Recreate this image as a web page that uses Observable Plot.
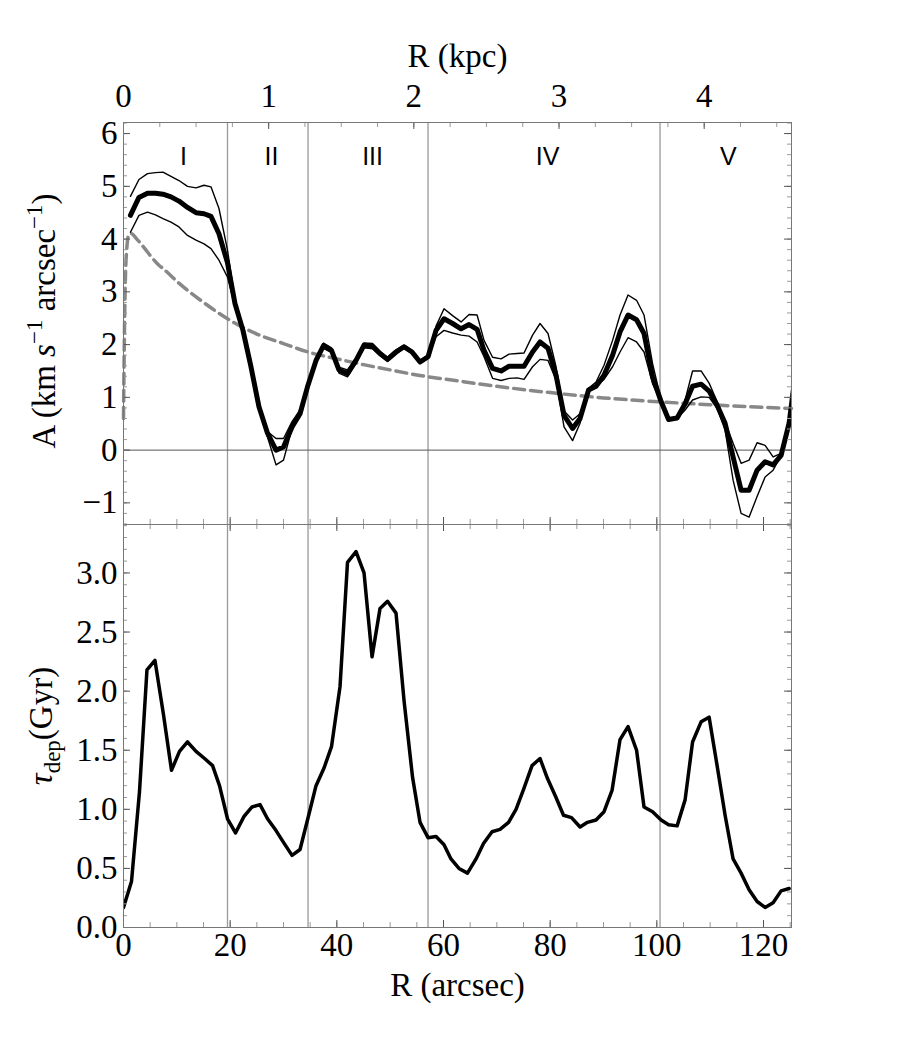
<!DOCTYPE html>
<html><head><meta charset="utf-8">
<script src="https://cdn.jsdelivr.net/npm/d3@7"></script>
<script src="https://cdn.jsdelivr.net/npm/@observablehq/plot@0.6"></script>
<style>
body{margin:0;background:#fff;}
#wrap{position:relative;width:913px;height:1050px;overflow:hidden;background:#fff;}
#wrap svg{position:absolute;left:0;}
</style></head><body><div id="wrap"></div>
<script>
// ---------- data ----------
const regionBounds = [19.5, 34.6, 57.1, 100.6];
const regionNames = ["I", "II", "III", "IV", "V"];
const regionLabelR = [11.25, 27.75, 46.7, 79.5, 113.4];

const xMajor = [0, 20, 40, 60, 80, 100, 120];
const kpcLabels = [0, 1, 2, 3, 4];
const aLabels = [-1, 0, 1, 2, 3, 4, 5, 6];
const tauLabels = [0, 0.5, 1, 1.5, 2, 2.5, 3];

const aR = [
1.3, 2.9, 4.5, 6.0, 7.4, 8.9, 10.4, 12.0, 13.6, 15.1,
16.4, 17.9, 19.5, 20.9, 22.4, 23.9, 25.4, 27.0, 28.6, 30.0,
31.6, 33.1, 34.5, 36.1, 37.5, 39.0, 40.4, 42.0, 43.6, 45.1,
46.7, 48.1, 49.5, 51.1, 52.6, 54.1, 55.6, 57.1, 58.6, 60.1,
61.7, 63.3, 64.8, 66.3, 67.6, 69.2, 70.8, 72.3, 73.8, 75.1,
76.7, 78.1, 79.6, 81.1, 82.6, 84.2, 85.6, 87.2, 88.6, 90.1,
91.7, 93.1, 94.6, 96.2, 97.6, 99.2, 100.8, 102.2, 103.8, 105.3,
106.7, 108.3, 109.8, 111.3, 112.8, 114.3, 115.8, 117.3, 118.8, 120.3,
121.8, 123.3, 124.8, 126.3];
const aMid = [
4.45, 4.79, 4.87, 4.87, 4.85, 4.80, 4.72, 4.60, 4.50, 4.48,
4.43, 4.10, 3.55, 2.78, 2.27, 1.58, 0.82, 0.32, 0.00, 0.06,
0.44, 0.69, 1.20, 1.70, 1.98, 1.89, 1.52, 1.45, 1.70, 1.99,
1.97, 1.83, 1.72, 1.86, 1.96, 1.86, 1.67, 1.77, 2.27, 2.49,
2.40, 2.30, 2.38, 2.29, 1.89, 1.55, 1.50, 1.59, 1.59, 1.59,
1.86, 2.05, 1.93, 1.42, 0.66, 0.41, 0.60, 1.14, 1.21, 1.42,
1.80, 2.24, 2.56, 2.47, 2.21, 1.39, 0.92, 0.58, 0.61, 0.88,
1.21, 1.25, 1.12, 0.85, 0.51, -0.13, -0.76, -0.76, -0.38, -0.22,
-0.28, -0.10, 0.51, 1.70];
const aUpper = [
4.81, 5.13, 5.24, 5.26, 5.27, 5.19, 5.11, 5.00, 4.97, 5.02,
4.99, 4.58, 3.79, 2.85, 2.32, 1.62, 0.88, 0.35, 0.22, 0.22,
0.54, 0.76, 1.25, 1.75, 2.03, 1.94, 1.57, 1.52, 1.75, 2.03,
2.02, 1.87, 1.76, 1.90, 1.99, 1.89, 1.70, 1.80, 2.35, 2.68,
2.55, 2.43, 2.57, 2.56, 2.08, 1.76, 1.73, 1.82, 1.83, 1.84,
2.18, 2.40, 2.21, 1.58, 0.74, 0.57, 0.69, 1.17, 1.29, 1.61,
2.08, 2.56, 2.94, 2.84, 2.56, 1.64, 0.95, 0.57, 0.60, 0.95,
1.50, 1.50, 1.27, 0.92, 0.54, 0.13, -0.25, -0.19, 0.14, 0.09,
-0.13, -0.06, 0.51, 1.70];
const aLower = [
4.13, 4.45, 4.51, 4.46, 4.39, 4.32, 4.23, 4.07, 3.98, 3.91,
3.82, 3.60, 3.28, 2.72, 2.22, 1.53, 0.77, 0.25, -0.28, -0.19,
0.41, 0.64, 1.15, 1.65, 1.93, 1.85, 1.46, 1.39, 1.65, 1.94,
1.92, 1.79, 1.68, 1.82, 1.93, 1.83, 1.64, 1.74, 2.15, 2.27,
2.22, 2.18, 2.16, 2.05, 1.77, 1.36, 1.32, 1.36, 1.37, 1.34,
1.58, 1.72, 1.70, 1.33, 0.44, 0.18, 0.51, 1.10, 1.21, 1.34,
1.58, 1.86, 2.13, 2.05, 1.86, 1.26, 0.90, 0.56, 0.60, 0.76,
0.95, 1.01, 1.00, 0.79, 0.38, -0.57, -1.20, -1.27, -0.88, -0.51,
-0.38, -0.10, 0.51, 1.70];

const modelR = [0, 0.15, 0.3, 0.6, 1.0, 1.5, 2.5, 4.0, 5.0, 6.5, 8.0, 10, 12, 15, 19.5, 25, 30, 34.6, 40, 45, 50, 57.1, 60, 70, 80, 90, 100.6, 110, 120, 125.25];
const modelA = [0.6, 2.0, 3.0, 3.8, 4.08, 4.1, 4.0, 3.82, 3.69, 3.52, 3.39, 3.2, 3.03, 2.8, 2.49, 2.2, 2.02, 1.86, 1.73, 1.62, 1.52, 1.39, 1.35, 1.21, 1.09, 0.99, 0.915, 0.86, 0.81, 0.79];

const tauR = [
0, 1.5, 3.0, 4.4, 5.9, 7.5, 9.0, 10.5, 12.0, 13.6,
15.2, 16.7, 18.0, 19.5, 21.0, 22.6, 24.1, 25.6, 27.0, 28.6,
30.0, 31.6, 33.1, 34.5, 36.1, 37.6, 39.0, 40.6, 42.0, 43.6,
45.1, 46.6, 48.1, 49.5, 51.1, 52.6, 54.2, 55.6, 57.1, 58.6,
60.1, 61.4, 62.9, 64.5, 66.1, 67.5, 69.1, 70.6, 72.2, 73.6,
75.1, 76.6, 78.1, 79.5, 81.1, 82.5, 84.0, 85.6, 87.0, 88.6,
90.1, 91.6, 93.1, 94.6, 96.2, 97.6, 99.2, 100.8, 102.2, 103.8,
105.3, 106.7, 108.3, 109.8, 111.3, 112.8, 114.3, 115.8, 117.3, 118.8,
120.3, 121.8, 123.3, 124.8];
const tau = [
0.17, 0.39, 1.15, 2.18, 2.26, 1.80, 1.33, 1.49, 1.57, 1.49,
1.43, 1.37, 1.20, 0.92, 0.80, 0.94, 1.02, 1.04, 0.92, 0.82,
0.72, 0.61, 0.66, 0.91, 1.20, 1.35, 1.53, 2.04, 3.09, 3.18,
3.00, 2.29, 2.70, 2.76, 2.66, 1.92, 1.27, 0.89, 0.76, 0.77,
0.70, 0.58, 0.50, 0.46, 0.58, 0.71, 0.81, 0.83, 0.89, 1.00,
1.18, 1.37, 1.43, 1.26, 1.10, 0.95, 0.93, 0.85, 0.89, 0.91,
0.98, 1.16, 1.59, 1.70, 1.50, 1.02, 0.98, 0.91, 0.87, 0.86,
1.08, 1.57, 1.74, 1.78, 1.37, 0.95, 0.58, 0.46, 0.32, 0.22,
0.17, 0.21, 0.31, 0.33];

// ---------- layout / style ----------
const SERIF = "'Liberation Serif', 'Times New Roman', serif";
const SANS = "'Liberation Sans', Arial, sans-serif";
const ARCSEC_PER_KPC = 27.22;
const xDomain = [0, 125.25];
const PW = 668;
const FS = 33;
const TC_MAJ = "#555", TC_MIN = "#9a9a9a", FRAME = "#777", GRID = "#999";

const xMinor = d3.range(0, 125.1, 5);
const kpcMinor = d3.range(0, 4.6, 0.25);
const aMinor = d3.range(-14, 63, 2).map(d => d / 10);
const tauMinor = d3.range(0, 35, 1).map(d => d / 10);

const aTable = aR.map((r, i) => ({r, mid: aMid[i], up: aUpper[i], lo: aLower[i]}));
const modelTable = modelR.map((r, i) => ({r, a: modelA[i]}));
const tauTable = tauR.map((r, i) => ({r, t: tau[i]}));

const txt = {fontFamily: SERIF, fontSize: FS, fill: "#000", lineAnchor: "middle"};

function sideTicks(minor, major, minLen, majLen) {
  return [
    Plot.tickY(minor, {y: d => d, insetRight: PW - minLen, stroke: TC_MIN}),
    Plot.tickY(major, {y: d => d, insetRight: PW - majLen, stroke: TC_MAJ}),
    Plot.tickY(minor, {y: d => d, insetLeft: PW - minLen, stroke: TC_MIN}),
    Plot.tickY(major, {y: d => d, insetLeft: PW - majLen, stroke: TC_MAJ})
  ];
}
function xTicksBottom(PH) {
  return [
    Plot.tickX(xMinor, {x: d => d, insetTop: PH - 5, stroke: TC_MIN}),
    Plot.tickX(xMajor, {x: d => d, insetTop: PH - 7, stroke: TC_MAJ})
  ];
}
function xTicksTop(PH) {
  return [
    Plot.tickX(xMinor, {x: d => d, insetBottom: PH - 5, stroke: TC_MIN}),
    Plot.tickX(xMajor, {x: d => d, insetBottom: PH - 7, stroke: TC_MAJ})
  ];
}

// ---------- top panel ----------
const PH1 = 402;
const topPlot = Plot.plot({
  width: 913, height: 525,
  marginLeft: 123, marginRight: 122, marginTop: 122, marginBottom: 1,
  style: {background: "transparent", overflow: "visible"},
  x: {domain: xDomain, axis: null},
  y: {domain: [-1.41, 6.21], axis: null},
  marks: [
    Plot.ruleX(regionBounds, {x: d => d, stroke: GRID, strokeWidth: 1.3}),
    Plot.ruleY([0], {y: d => d, stroke: "#555", strokeWidth: 1}),
    Plot.line(modelTable, {x: "r", y: "a", stroke: "#888", strokeWidth: 3.5, strokeDasharray: "11,6", curve: "monotone-x"}),
    Plot.line(aTable, {x: "r", y: "up", stroke: "#000", strokeWidth: 1.4, clip: true}),
    Plot.line(aTable, {x: "r", y: "lo", stroke: "#000", strokeWidth: 1.4, clip: true}),
    Plot.line(aTable, {x: "r", y: "mid", stroke: "#000", strokeWidth: 5, clip: true}),
    Plot.text(regionNames, {x: (d, i) => regionLabelR[i], y: () => 5.55, text: d => d, fontFamily: SANS, fontSize: 25, fill: "#000", lineAnchor: "middle"}),
    ...sideTicks(aMinor, aLabels, 4, 7),
    ...xTicksBottom(PH1),
    Plot.tickX(kpcMinor, {x: d => d * ARCSEC_PER_KPC, insetBottom: PH1 - 5, stroke: TC_MIN}),
    Plot.tickX(kpcLabels, {x: d => d * ARCSEC_PER_KPC, insetBottom: PH1 - 7, stroke: TC_MAJ}),
    Plot.frame({stroke: FRAME}),
    Plot.text(aLabels, {y: d => d, text: d => d3.format("d")(d), frameAnchor: "left", textAnchor: "end", dx: -6, ...txt}),
    Plot.text(kpcLabels, {x: d => d * ARCSEC_PER_KPC, text: d => String(d), frameAnchor: "top", dy: -26, ...txt}),
    Plot.text(["R (kpc)"], {text: d => d, frameAnchor: "top", dy: -66, ...txt})
  ]
});
topPlot.style.top = "0px";

{
  const t = d3.select(topPlot).append("text")
    .attr("transform", "translate(55,321) rotate(-90)")
    .attr("text-anchor", "middle")
    .attr("font-family", SERIF).attr("font-size", FS).attr("fill", "#000");
  t.append("tspan").text("A (km ");
  t.append("tspan").attr("font-style", "italic").text("s");
  t.append("tspan").attr("font-size", 23).attr("dy", -13).text("\u22121");
  t.append("tspan").attr("dy", 13).text(" arcsec");
  t.append("tspan").attr("font-size", 23).attr("dy", -13).text("\u22121");
  t.append("tspan").attr("dy", 13).text(")");
}

// ---------- bottom panel ----------
const PH2 = 403;
const botPlot = Plot.plot({
  width: 913, height: 528,
  marginLeft: 123, marginRight: 122, marginTop: 1, marginBottom: 124,
  style: {background: "transparent", overflow: "visible"},
  x: {domain: xDomain, axis: null},
  y: {domain: [0, 3.41], axis: null},
  marks: [
    Plot.ruleX(regionBounds, {x: d => d, stroke: GRID, strokeWidth: 1.3}),
    Plot.line(tauTable, {x: "r", y: "t", stroke: "#000", strokeWidth: 3.5, clip: true}),
    ...sideTicks(tauMinor, tauLabels, 4, 7),
    ...xTicksBottom(PH2),
    ...xTicksTop(PH2),
    Plot.frame({stroke: FRAME}),
    Plot.text(tauLabels, {y: d => d, text: d => d3.format(".1f")(d), frameAnchor: "left", textAnchor: "end", dx: -6, ...txt}),
    Plot.text(xMajor, {x: d => d, text: d => String(d), frameAnchor: "bottom", dy: 18, ...txt}),
    Plot.text(["R (arcsec)"], {text: d => d, frameAnchor: "bottom", dy: 58, ...txt})
  ]
});
botPlot.style.top = "523px";

{
  const t = d3.select(botPlot).append("text")
    .attr("transform", "translate(52,203) rotate(-90)")
    .attr("text-anchor", "middle")
    .attr("font-family", SERIF).attr("font-size", FS).attr("fill", "#000");
  t.append("tspan").attr("font-style", "italic").text("\u03C4");
  t.append("tspan").attr("font-size", 23).attr("dy", 8).text("dep");
  t.append("tspan").attr("dy", -8).text("(Gyr)");
}

const wrap = document.getElementById("wrap");
wrap.appendChild(topPlot);
wrap.appendChild(botPlot);
</script></body></html>
